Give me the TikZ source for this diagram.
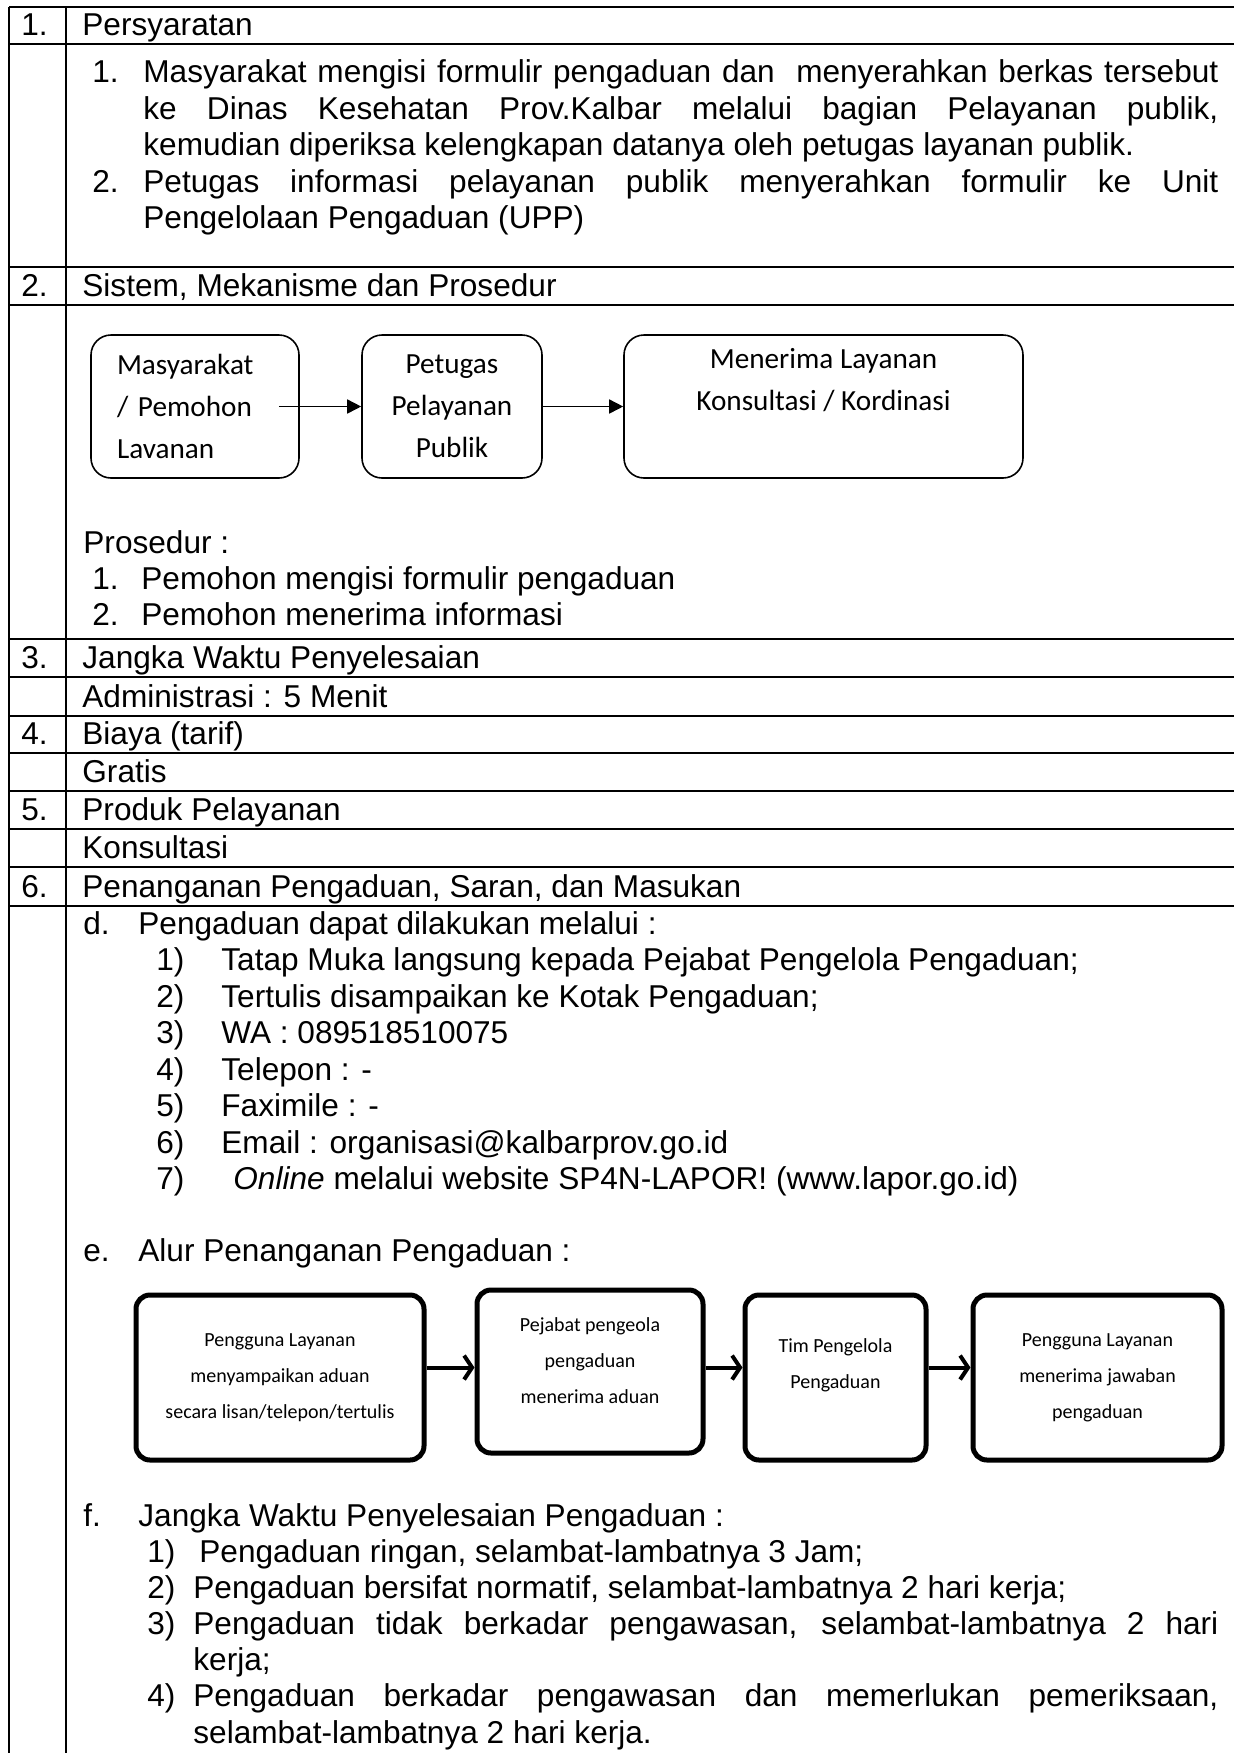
\documentclass[tikz,border=0pt]{standalone}
\usepackage{fontspec}
\setmainfont{Liberation Sans}
\newfontfamily\calibri{Carlito}
\usetikzlibrary{arrows.meta}

\tikzset{
  txt/.style={anchor=base west, inner sep=0pt, font=\fontsize{15.8}{18.3}\selectfont},
  tabline/.style={line width=1.1pt},
  flowbox/.style={draw, line width=0.8pt, rounded corners=10pt, inner sep=0pt,
    font=\calibri\fontsize{14.6}{21}\selectfont},
  alurbox/.style={draw, line width=2.5pt, rounded corners=7pt, inner sep=0pt,
    align=center, font=\calibri\fontsize{10}{18}\selectfont},
  flowarr/.style={-{Triangle[length=7pt,width=7pt]}, line width=0.8pt},
  alurarr/.style={-{Straight Barb[length=4pt,width=12pt]}, line width=2pt}
}
% one justified line of the given width
\newcommand{\jline}[2]{\makebox[#1][s]{#2}}

\begin{document}
\begin{tikzpicture}[x=0.5pt, y=-0.5pt]
\useasboundingbox (0,0) rectangle (1234,1753);
% table rules (the table runs on past the right edge)
\foreach \y in {7,44,267,305,639,677,716,753,791,829,867,906}
  \draw[tabline] (9,\y) -- (1234,\y);
\draw[tabline] (9,7) -- (9,1753);
\draw[tabline] (66,7) -- (66,1753);
% numbered header rows
\foreach \y/\num/\head [count=\i] in {
  35/1./Persyaratan,
  296/2./{Sistem, Mekanisme dan Prosedur},
  668/3./{Jangka Waktu Penyelesaian},
  744/4./{Biaya (tarif)},
  820/5./{Produk Pelayanan},
  897/6./{Penanganan Pengaduan, Saran, dan Masukan}} {
  \node[txt] (num\i) at (21,\y) {\num};
  \node[txt] (head\i) at (82,\y) {\head};
}
% one-line answers of rows 3--5
\foreach \y/\ans [count=\i] in {707/{Administrasi : 5 Menit}, 782/Gratis, 858/Konsultasi}
  \node[txt] (ans\i) at (82,\y) {\ans};

% row 1: persyaratan
\node[txt] (req1n) at (92,82) {1.};
\node[txt] (req1a) at (143,82)
  {\jline{537.5pt}{Masyarakat mengisi formulir pengaduan dan~ menyerahkan berkas tersebut}};
\node[txt] (req1b) at (143,119)
  {\jline{537.5pt}{ke Dinas Kesehatan Prov.Kalbar melalui bagian Pelayanan publik,}};
\node[txt] (req1c) at (143,155)
  {kemudian diperiksa kelengkapan datanya oleh petugas layanan publik.};
\node[txt] (req2n) at (92,192) {2.};
\node[txt] (req2a) at (143,192)
  {\jline{537.5pt}{Petugas informasi pelayanan publik menyerahkan formulir ke Unit}};
\node[txt] (req2b) at (143,228) {Pengelolaan Pengaduan (UPP)};

% row 2: mekanisme flow
\node[flowbox, minimum width=104pt, minimum height=71.5pt, align=left, text width=78pt]
  (mas) at (195,406.5) {Masyarakat\\/ Pemohon\\Lavanan};
\node[flowbox, minimum width=90pt, minimum height=71.5pt, align=center]
  (pet) at (452,406.5) {Petugas\\Pelayanan\\Publik};
\node[flowbox, minimum width=199.5pt, minimum height=71.5pt, align=center]
  (kon) at (823.5,406.5) {Menerima Layanan\\Konsultasi / Kordinasi\\\strut};
\draw[flowarr] ([xshift=-10.5pt]mas.east) -- (pet.west);
\draw[flowarr] (pet.east) -- (kon.west);
% prosedur
\node[txt] (pros) at (83,553) {Prosedur :};
\foreach \y/\t [count=\i] in {589/{Pemohon mengisi formulir pengaduan}, 625/{Pemohon menerima informasi}} {
  \node[txt] (prosn\i) at (92,\y) {\i.};
  \node[txt] (prost\i) at (141,\y) {\t};
}

% row 6: d. saluran pengaduan
\node[txt] (dlab) at (83,934) {d.};
\node[txt] (dtxt) at (138,934) {Pengaduan dapat dilakukan melalui :};
\foreach \xt/\t [count=\i] in {
  221/{Tatap Muka langsung kepada Pejabat Pengelola Pengaduan;},
  221/{Tertulis disampaikan ke Kotak Pengaduan;},
  221/{WA : 089518510075},
  221/{Telepon : -},
  221/{Faximile : -},
  221/{Email : organisasi@kalbarprov.go.id},
  233/{\emph{Online} melalui website SP4N-LAPOR! (www.lapor.go.id)}} {
  \pgfmathsetmacro{\y}{934+\i*36.5}
  \node[txt] (dn\i) at (156,\y) {\i)};
  \node[txt] (dt\i) at (\xt,\y) {\t};
}

% e. alur penanganan
\node[txt] (elab) at (83,1261) {e.};
\node[txt] (etxt) at (138,1261) {Alur Penanganan Pengaduan :};
\node[alurbox, minimum width=144pt, minimum height=82.5pt] (pb1) at (280,1377.5)
  {Pengguna Layanan\\menyampaikan aduan\\secara lisan/telepon/tertulis};
\node[alurbox, minimum width=113pt, minimum height=81.5pt] (pb2) at (590,1371.5)
  {Pejabat pengeola\\pengaduan\\menerima aduan\\[-7pt]\mbox{}};
\node[alurbox, minimum width=90.5pt, minimum height=82.5pt] (pb3) at (835.5,1377.5)
  {Tim Pengelola\\Pengaduan\\[-4pt]\mbox{}};
\node[alurbox, minimum width=124.5pt, minimum height=82.5pt] (pb4) at (1097.5,1377.5)
  {Pengguna Layanan\\menerima jawaban\\pengaduan};
\coordinate (ay) at ([yshift=5pt]pb1.east);
\draw[alurarr] (pb1.east |- ay) -- (pb2.west |- ay);
\draw[alurarr] (pb2.east |- ay) -- (pb3.west |- ay);
\draw[alurarr] (pb3.east |- ay) -- (pb4.west |- ay);

% f. jangka waktu pengaduan
\node[txt] (flab) at (83,1526) {f.};
\node[txt] (ftxt) at (138,1526) {Jangka Waktu Penyelesaian Pengaduan :};
\node[txt] (fn1) at (147,1562) {1)};
\node[txt] (ft1) at (199,1562) {Pengaduan ringan, selambat-lambatnya 3 Jam;};
\node[txt] (fn2) at (147,1598) {2)};
\node[txt] (ft2) at (193,1598) {Pengaduan bersifat normatif, selambat-lambatnya 2 hari kerja;};
\node[txt] (fn3) at (147,1634) {3)};
\node[txt] (ft3a) at (193,1634)
  {\jline{512.5pt}{Pengaduan tidak berkadar pengawasan, selambat-lambatnya 2 hari}};
\node[txt] (ft3b) at (193,1670) {kerja;};
\node[txt] (fn4) at (147,1706) {4)};
\node[txt] (ft4a) at (193,1706)
  {\jline{512.5pt}{Pengaduan berkadar pengawasan dan memerlukan pemeriksaan,}};
\node[txt] (ft4b) at (193,1743) {selambat-lambatnya 2 hari kerja.};
\end{tikzpicture}
\end{document}
